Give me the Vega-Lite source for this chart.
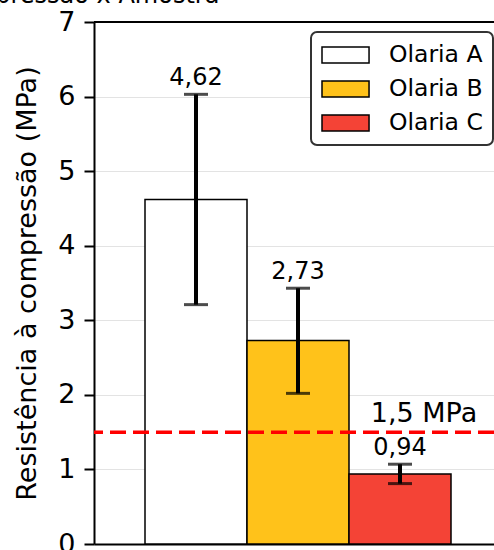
{
  "$schema": "https://vega.github.io/schema/vega-lite/v6.json",
  "autosize": "none",
  "padding": {"left": 94, "top": 22, "right": 0, "bottom": 6},
  "width": 400,
  "height": 522,
  "title": {"text": "Resistência à compressão x Amostra", "fontSize": 24, "fontWeight": "normal", "color": "black", "anchor": "start", "frame": "group", "dx": -316, "offset": 0},
  "config": {
    "font": "DejaVu Sans",
    "view": {"stroke": null},
    "axis": {"labelColor": "black", "titleColor": "black", "domainColor": "black", "tickColor": "black"},
    "legend": {"strokeWidth": 2}
  },
  "datasets": {
    "amostras": [
      {"olaria": "Olaria A", "media": 4.62, "inf": 3.21, "sup": 6.03, "rotulo": "4,62"},
      {"olaria": "Olaria B", "media": 2.73, "inf": 2.02, "sup": 3.43, "rotulo": "2,73"},
      {"olaria": "Olaria C", "media": 0.94, "inf": 0.81, "sup": 1.07, "rotulo": "0,94"}
    ]
  },
  "layer": [
    {
      "data": {"name": "amostras"},
      "mark": {"type": "bar", "stroke": "black", "strokeWidth": 1.5},
      "encoding": {
        "x": {"field": "olaria", "type": "nominal",
          "scale": {"domain": ["Olaria A", "Olaria B", "Olaria C"], "range": [0, 408], "paddingInner": 0, "paddingOuter": 0.5},
          "axis": {"labels": false, "ticks": false, "title": null, "domainWidth": 2, "grid": false}},
        "y": {"field": "media", "type": "quantitative", "title": "Resistência à compressão (MPa)",
          "scale": {"domain": [0, 7], "nice": false},
          "axis": {"values": [0, 1, 2, 3, 4, 5, 6, 7], "format": "d", "titleFontSize": 27, "titleFontWeight": "normal", "titlePadding": 16, "labelFontSize": 27, "labelPadding": 9, "tickSize": 10, "tickWidth": 2, "domainWidth": 2, "grid": true, "gridColor": "#e3e3e3", "gridWidth": 1}},
        "color": {"field": "olaria", "type": "nominal",
          "scale": {"domain": ["Olaria A", "Olaria B", "Olaria C"], "range": ["#ffffff", "#ffc21a", "#f44336"]},
          "legend": {"title": null, "orient": "none", "legendX": 217, "legendY": 10, "labelFontSize": 23.5, "labelColor": "black", "symbolType": "M-1,-0.667 h3.92 v1.334 h-3.92 z", "symbolSize": 576, "symbolStrokeColor": "black", "symbolStrokeWidth": 1.5, "symbolOpacity": 1, "labelOffset": 42, "rowPadding": 9, "padding": 10, "strokeColor": "#333333", "cornerRadius": 6, "fillColor": "white"}}
      }
    },
    {
      "data": {"values": [{}]},
      "mark": {"type": "rule", "color": "black", "strokeWidth": 2},
      "encoding": {"y": {"datum": 7}}
    },
    {
      "data": {"name": "amostras"},
      "mark": {"type": "errorbar", "ticks": {"size": 24, "thickness": 3, "color": "black"}, "rule": {"strokeWidth": 4, "color": "black"}},
      "encoding": {
        "x": {"field": "olaria", "type": "nominal"},
        "y": {"field": "inf", "type": "quantitative", "title": "Resistência à compressão (MPa)"},
        "y2": {"field": "sup"}
      }
    },
    {
      "data": {"name": "amostras"},
      "mark": {"type": "text", "fontSize": 24, "color": "black", "baseline": "alphabetic", "dy": -9},
      "encoding": {
        "x": {"field": "olaria", "type": "nominal"},
        "y": {"field": "sup", "type": "quantitative", "title": "Resistência à compressão (MPa)"},
        "text": {"field": "rotulo"}
      }
    },
    {
      "data": {"values": [{}]},
      "mark": {"type": "rule", "color": "#ff0000", "strokeWidth": 3.5, "strokeDash": [16, 7]},
      "encoding": {"y": {"datum": 1.5}}
    },
    {
      "data": {"values": [{}]},
      "mark": {"type": "text", "text": "1,5 MPa", "fontSize": 27, "color": "black", "baseline": "alphabetic", "dx": 24, "dy": -10},
      "encoding": {"x": {"datum": "Olaria C"}, "y": {"datum": 1.5}}
    }
  ]
}
